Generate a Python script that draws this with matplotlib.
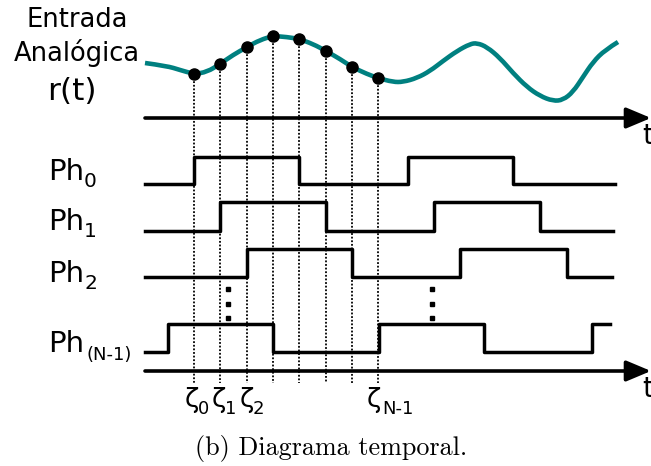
import numpy as np
import matplotlib
matplotlib.use('Agg')
import matplotlib.pyplot as plt
from matplotlib.path import Path
from matplotlib.patches import PathPatch

# everything is laid out in pixel units of the 651x466 picture (y grows downwards)

# analog input r(t)
curve_x = [145, 167, 180, 194, 207, 220, 233, 247, 260, 273, 287, 299, 313, 326, 340, 352, 367, 378,
           393, 403, 417, 430, 443, 457, 470, 477, 487, 500, 513, 527, 540, 553, 563, 573, 583, 593, 605, 618]
curve_y = [63, 66, 70, 74, 72, 64, 55, 47, 40, 36, 37, 39, 44, 51, 59, 67, 74, 78,
           82, 82, 78, 71, 61, 51, 44, 43, 47, 58, 73, 87, 96, 101, 100, 92, 77, 62, 50, 42]

# sampling instants and sampled values
sample_x = [194, 220, 247, 273, 299, 326, 352, 378]
sample_y = [74, 64, 47, 36, 39, 51, 67, 78]
dotted_bottom = 383

# time axes
axis_y = [118, 371]
axis_start, axis_end = 145, 651

# phase signals: transition instants and logic state after each instant
phases = {
    'Ph0': dict(x=[145, 194, 299, 408, 513, 615], state=[0, 1, 0, 1, 0, 0], low=184, high=157),
    'Ph1': dict(x=[145, 220, 326, 434, 540, 613], state=[0, 1, 0, 1, 0, 0], low=231, high=202),
    'Ph2': dict(x=[145, 247, 352, 460, 567, 612], state=[0, 1, 0, 1, 0, 0], low=277, high=249),
    'PhN': dict(x=[145, 168, 273, 379, 484, 592, 610], state=[0, 1, 0, 1, 0, 1, 1], low=352, high=324),
}
phase_labels = ['Ph0', 'Ph1', 'Ph2', 'PhN']
phase_subs = ['0', '1', '2', '(N-1)']
phase_baselines = [180, 230, 282, 352]

# vertical ellipsis between Ph2 and Ph(N-1)
ellipsis_x = [228, 432]
ellipsis_y = [289, 304, 318]

# zeta labels under the lower axis
zeta_x = [192, 219, 247, 374]
zeta_subs = ['0', '1', '2', 'N-1']

teal = '#008080'


def smooth_path(xs, ys):

	'''Quadratic bezier through the read points (each point is a control point,
	segments join half way between neighbours).'''

	pts = list(zip(xs, ys))
	verts = [pts[0]]
	codes = [Path.MOVETO]
	for i in range(1, len(pts) - 1):
		nxt = pts[i + 1] if i + 1 < len(pts) - 1 else pts[-1]
		end = nxt if i + 1 == len(pts) - 1 else ((pts[i][0] + nxt[0]) / 2, (pts[i][1] + nxt[1]) / 2)
		verts += [pts[i], end]
		codes += [Path.CURVE3, Path.CURVE3]
	return Path(verts, codes)


fig = plt.figure(figsize=(6.51, 4.66), dpi=100)
ax = fig.add_axes([0, 0, 1, 1])
ax.set_xlim(0, 651)
ax.set_ylim(466, 0)
ax.axis('off')

# dotted sampling lines (behind everything)
for x, y in zip(sample_x, sample_y):
	ax.plot([x, x], [y, dotted_bottom], color='k', lw=1.3, ls=(0, (1, 1)), zorder=1)

ax.add_patch(PathPatch(smooth_path(curve_x, curve_y), facecolor='none', edgecolor=teal,
                       lw=3.3, capstyle='butt', zorder=2))
ax.plot(sample_x, sample_y, 'o', color='k', ms=8, zorder=3)

for y in axis_y:
	ax.annotate('', xy=(axis_end, y), xytext=(axis_start, y),
		arrowprops=dict(arrowstyle='-|>,head_length=1.0,head_width=0.42', lw=2.6, color='k',
		                shrinkA=0, shrinkB=0, mutation_scale=15), zorder=3)
	ax.text(642, y + 26, 't', fontsize=20, ha='left', va='baseline')

for key, base, sub in zip(phase_labels, phase_baselines, phase_subs):
	p = phases[key]
	levels = [p['low'] - s * (p['low'] - p['high']) for s in p['state']]
	ax.step(p['x'], levels, where='post', color='k', lw=2.5, zorder=3)
	ax.text(48, base, 'Ph', fontsize=21, ha='left', va='baseline')
	if sub == '(N-1)':
		ax.text(86, base + 8, sub, fontsize=13, ha='left', va='baseline')
	else:
		ax.text(84, base + 7, sub, fontsize=14.5, ha='left', va='baseline')

for x in ellipsis_x:
	ax.plot([x] * len(ellipsis_y), ellipsis_y, 's', color='k', ms=2.8, zorder=3)

for x, sub in zip(zeta_x, zeta_subs):
	ax.text(x, 407, 'ζ', fontsize=19, ha='center', va='baseline')
	if sub == 'N-1':
		ax.text(x + 8, 414, sub, fontsize=13, ha='left', va='baseline')
	else:
		ax.text(x + 6, 414, sub, fontsize=13, ha='left', va='baseline')

ax.text(77, 20, 'Entrada', fontsize=18.5, ha='center', va='center')
ax.text(77, 53, 'Analógica', fontsize=18.5, ha='center', va='center')
ax.text(72, 92, 'r(t)', fontsize=22.5, ha='center', va='center')

ax.text(331, 455, '(b) Diagrama temporal.', fontsize=18.8, family='cmr10', ha='center', va='baseline')

fig.savefig('out.png', dpi=100)
